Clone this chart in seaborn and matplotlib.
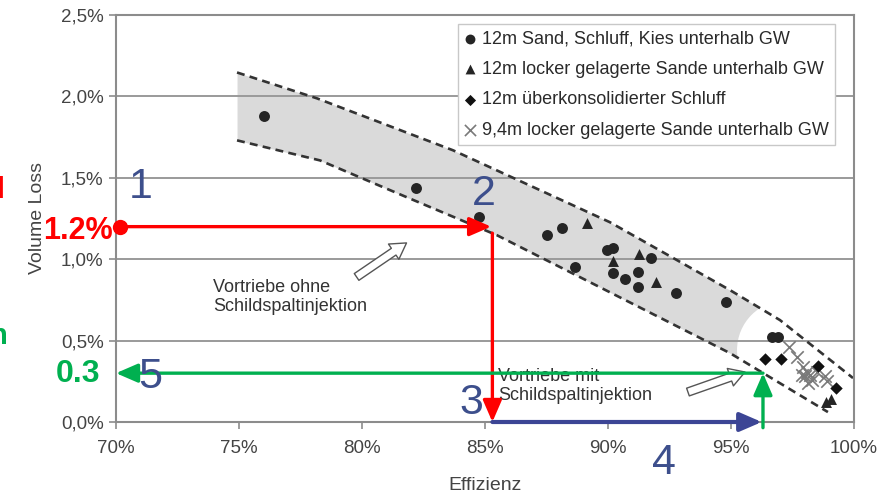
import numpy as np
import pandas as pd
import matplotlib
matplotlib.use("Agg")
import matplotlib.pyplot as plt
from matplotlib.patches import Ellipse
import seaborn as sns

# Measured tunnel drives: efficiency (%) vs. volume loss (%)
circle_eff = [76.0, 82.2, 84.75, 87.5, 88.15, 88.65, 89.95, 90.2, 91.75, 90.2,
              90.7, 91.2, 91.2, 92.75, 94.8, 96.65, 96.9]
circle_vl = [1.88, 1.44, 1.26, 1.15, 1.19, 0.95, 1.055, 1.07, 1.01, 0.915,
             0.88, 0.92, 0.83, 0.79, 0.735, 0.52, 0.52]

triangle_eff = [89.15, 90.2, 91.25, 91.95, 98.85, 99.05]
triangle_vl = [1.22, 0.99, 1.03, 0.86, 0.12, 0.14]

diamond_eff = [96.4, 97.05, 98.55, 99.25]
diamond_vl = [0.385, 0.385, 0.345, 0.21]

cross_eff = [97.37, 97.67, 97.94, 98.1, 98.0, 98.21, 98.28, 97.87, 98.48, 98.82, 98.89, 98.14]
cross_vl = [0.46, 0.40, 0.34, 0.31, 0.28, 0.29, 0.26, 0.29, 0.31, 0.28, 0.25, 0.24]

series_labels = [
    "12m Sand, Schluff, Kies unterhalb GW",
    "12m locker gelagerte Sande unterhalb GW",
    "12m überkonsolidierter Schluff",
    "9,4m locker gelagerte Sande unterhalb GW",
]

# Envelope of the scatter band (dashed boundaries)
upper_eff = [74.92, 78.17, 83.70, 90.08, 94.96, 96.99, 99.96]
upper_vl = [2.147, 1.988, 1.669, 1.227, 0.810, 0.626, 0.270]
lower_eff = [74.92, 78.29, 81.83, 85.49, 89.67, 94.96, 98.94]
lower_vl = [1.730, 1.607, 1.380, 1.147, 0.828, 0.423, 0.061]

# Reading example
vl_target = 1.2
eff_without = 85.3
vl_with = 0.3
eff_with = 96.3

x_ticks = [70, 75, 80, 85, 90, 95, 100]
x_ticklabels = ["70%", "75%", "80%", "85%", "90%", "95%", "100%"]
y_ticks = [0.0, 0.5, 1.0, 1.5, 2.0, 2.5]
y_ticklabels = ["0,0%", "0,5%", "1,0%", "1,5%", "2,0%", "2,5%"]

sns.set_style("white")
plt.rcParams["font.family"] = ["Liberation Sans", "DejaVu Sans"]

W, H = 886, 495
fig = plt.figure(figsize=(W / 100, H / 100), dpi=100)
ax = fig.add_axes([116 / W, 1 - 422 / H, 738 / W, 407 / H])

ax.set_xlim(70, 100)
ax.set_ylim(0, 2.5)

# shaded band
xs = np.linspace(upper_eff[0], 96.6, 200)
ax.fill_between(xs, np.interp(xs, lower_eff, lower_vl), np.interp(xs, upper_eff, upper_vl),
                color="#dadada", lw=0, zorder=0.2)
ax.add_patch(Ellipse((97.28, 0.442), 4.07, 0.613, color="white", lw=0, zorder=0.3))

sns.lineplot(x=upper_eff, y=upper_vl, ax=ax, color="#333333", lw=1.9,
             dashes=False, linestyle=(0, (3, 2)), sort=False, zorder=2)
sns.lineplot(x=lower_eff, y=lower_vl, ax=ax, color="#333333", lw=1.9,
             dashes=False, linestyle=(0, (3, 2)), sort=False, zorder=2)

# grid and frame
ax.set_axisbelow("line")
ax.yaxis.grid(True, color="#9a9a9a", lw=1.4)
ax.xaxis.grid(False)
for sp in ax.spines.values():
    sp.set_visible(True)
    sp.set_color("#8c8c8c")
    sp.set_linewidth(1.5)

dark = "#252525"
sns.scatterplot(x=circle_eff, y=circle_vl, ax=ax, marker="o", s=62, color=dark,
                edgecolor=dark, linewidth=0, label=series_labels[0], zorder=4)
sns.scatterplot(x=triangle_eff, y=triangle_vl, ax=ax, marker="^", s=62, color=dark,
                edgecolor=dark, linewidth=0, label=series_labels[1], zorder=4)
sns.scatterplot(x=diamond_eff, y=diamond_vl, ax=ax, marker="D", s=40, color="#111111",
                edgecolor="#111111", linewidth=0, label=series_labels[2], zorder=4)
sns.scatterplot(x=cross_eff, y=cross_vl, ax=ax, marker="x", s=80, color="#7a7a7a",
                linewidth=1.2, label=series_labels[3], zorder=3.5)

leg = ax.legend(loc="upper left", bbox_to_anchor=(0.463, 0.978), borderaxespad=0,
                frameon=True, fancybox=False, edgecolor="#c8c8c8", framealpha=1,
                fontsize=13, handlelength=0.7, handletextpad=0.3, labelspacing=0.75,
                borderpad=0.35, markerscale=0.9)
for t in leg.get_texts():
    t.set_color("#2a2a2a")
leg.set_zorder(6)

ax.set_xticks(x_ticks)
ax.set_xticklabels(x_ticklabels)
ax.set_yticks(y_ticks)
ax.set_yticklabels(y_ticklabels)
ax.tick_params(axis="both", which="both", direction="out", length=5, width=1.2,
               color="#8c8c8c", labelcolor="#444444", labelsize=13.5)
ax.tick_params(axis="x", pad=8)
ax.tick_params(axis="y", pad=4, left=True)
ax.tick_params(axis="x", bottom=True)

ax.set_xlabel("Effizienz", fontsize=14, color="#444444")
ax.set_ylabel("Volume Loss", fontsize=14, color="#444444")
ax.xaxis.set_label_coords(0.5, -0.135)
ax.yaxis.set_label_coords(-0.095, 0.5)

# region notes with hollow arrows
note_kw = dict(fontsize=13, color="#333333", linespacing=1.15, va="top", ha="left", zorder=5)
ax.text(73.94, 0.88, "Vortriebe ohne\nSchildspaltinjektion", **note_kw)
ax.text(85.53, 0.33, "Vortriebe mit\nSchildspaltinjektion", **note_kw)
hollow = dict(arrowstyle="simple,head_length=0.8,head_width=0.95,tail_width=0.42",
              fc="white", ec="#555555", lw=1.0, mutation_scale=14, shrinkA=0, shrinkB=0)
ax.annotate("", xy=(81.81, 1.10), xytext=(79.78, 0.891), arrowprops=hollow, zorder=5)
ax.annotate("", xy=(95.57, 0.307), xytext=(93.25, 0.184), arrowprops=hollow, zorder=5)

# reading path
red, green, navy, blue_num = "#ff0000", "#00b050", "#3c4595", "#3d4f8c"
head = "-|>,head_length=0.6,head_width=0.26"


def path_arrow(p0, p1, color, lw):
    ax.annotate("", xy=p1, xytext=p0, annotation_clip=False, zorder=7,
                arrowprops=dict(arrowstyle=head, color=color, lw=lw, mutation_scale=22,
                                shrinkA=0, shrinkB=0))


ax.plot([70.16], [vl_target], "o", ms=10, color=red, clip_on=False, zorder=8)
path_arrow((70.16, vl_target), (eff_without - 0.05, vl_target), red, 2.4)
path_arrow((eff_without, vl_target - 0.04), (eff_without, 0.0), red, 2.4)
path_arrow((eff_without, 0.0), (eff_with - 0.05, 0.0), navy, 3.0)
path_arrow((eff_with, -0.035), (eff_with, vl_with), green, 2.4)
path_arrow((eff_with, vl_with), (70.0, vl_with), green, 2.4)

fig.text(113 / W, 1 - 231 / H, "1.2%", color=red, fontsize=22, fontweight="bold",
         ha="right", va="center")
fig.text(100 / W, 1 - 374 / H, "0.3", color=green, fontsize=23, fontweight="bold",
         ha="right", va="center")
fig.text(5 / W, 1 - 190 / H, "d", color=red, fontsize=21, fontweight="bold",
         ha="right", va="center")
fig.text(8 / W, 1 - 336 / H, "n", color=green, fontsize=21, fontweight="bold",
         ha="right", va="center")

for label, (px, py) in zip(["1", "2", "3", "4", "5"],
                           [(141, 187), (484, 194), (471, 403), (664, 463), (150, 377)]):
    fig.text(px / W, 1 - py / H, label, color=blue_num, fontsize=31,
             ha="center", va="center")

fig.savefig("out.png", dpi=100)
